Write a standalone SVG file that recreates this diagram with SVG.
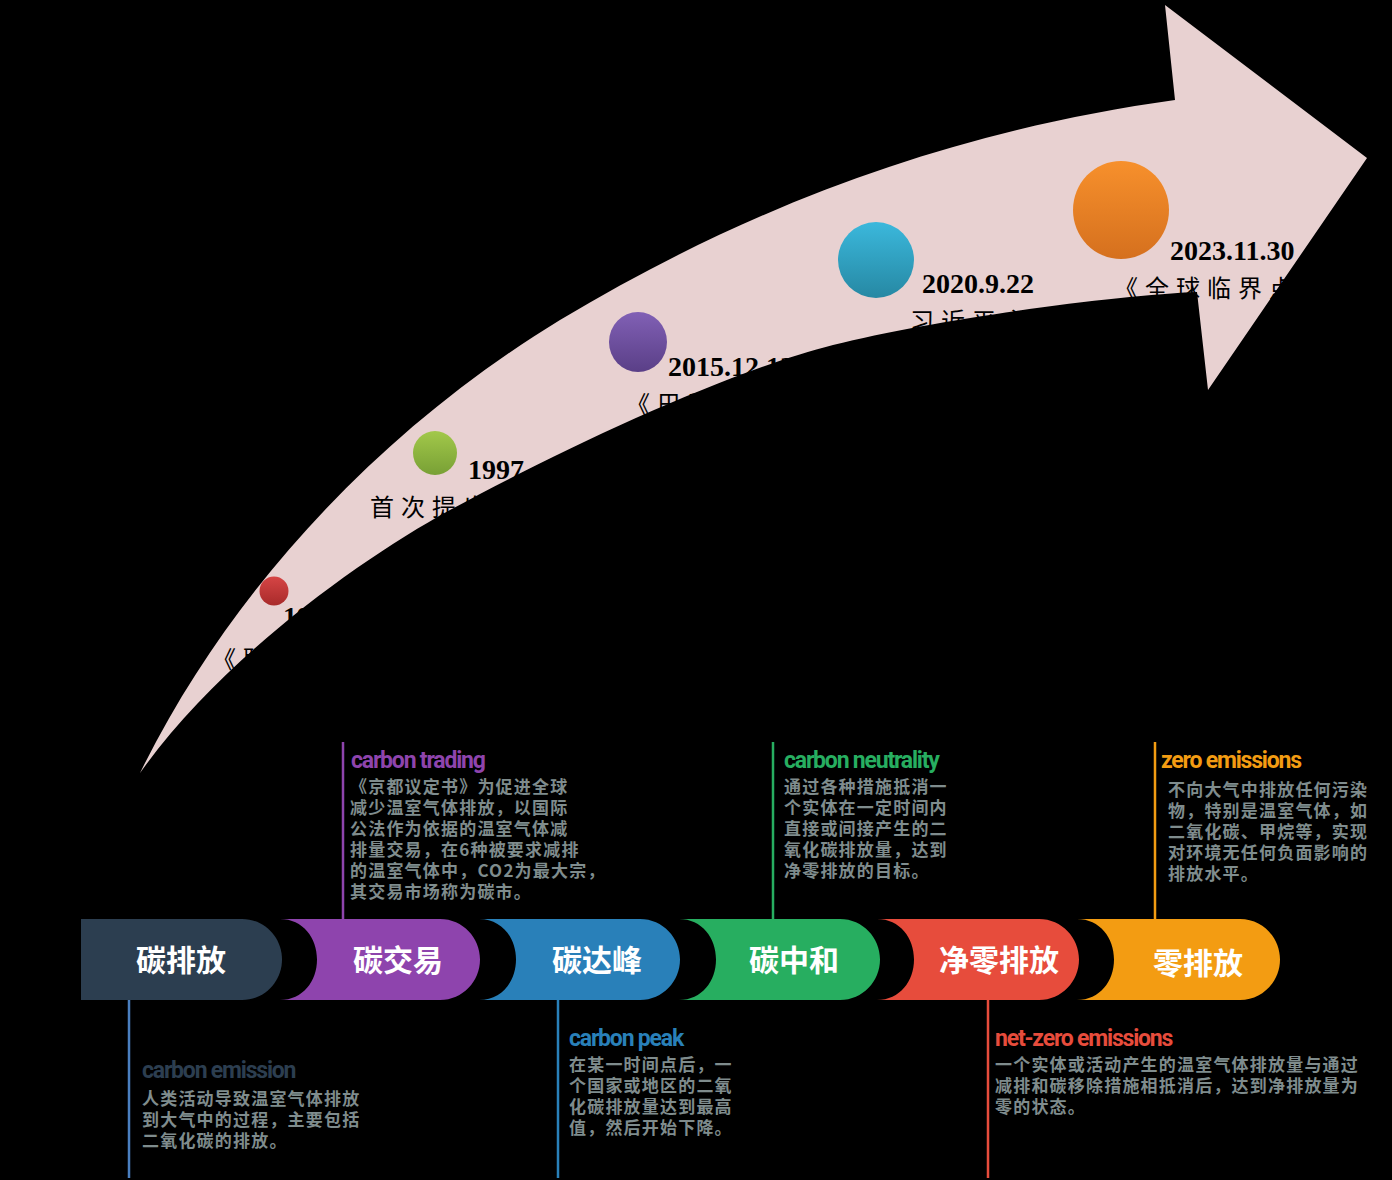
<svg xmlns="http://www.w3.org/2000/svg" width="1392" height="1180" viewBox="0 0 1392 1180">
<defs>
<style>
.date{font-family:"Liberation Serif",serif;font-weight:bold;font-size:28px;fill:#000}
.cn{font-family:"Liberation Serif","Noto Sans CJK SC",serif;font-size:24px;letter-spacing:7px;fill:#000}
.node{font-family:"Noto Sans CJK SC",sans-serif;font-weight:bold;font-size:30px;fill:#fff;text-anchor:middle}
.ttl{font-family:"Roboto","Liberation Sans",sans-serif;font-weight:bold;font-size:23px;letter-spacing:-1.2px}
.desc{font-family:"Noto Sans CJK SC",sans-serif;font-weight:bold;font-size:17px;fill:#7f8c8d;letter-spacing:1.2px}
</style>
<linearGradient id="gr" x1="0" y1="0" x2="0" y2="1"><stop offset="0" stop-color="#d64545"/><stop offset="1" stop-color="#a82a2a"/></linearGradient>
<linearGradient id="gg" x1="0" y1="0" x2="0" y2="1"><stop offset="0" stop-color="#a2c84a"/><stop offset="1" stop-color="#78a035"/></linearGradient>
<linearGradient id="gp" x1="0" y1="0" x2="0" y2="1"><stop offset="0" stop-color="#8160b5"/><stop offset="1" stop-color="#5a3f87"/></linearGradient>
<linearGradient id="gb" x1="0" y1="0" x2="0" y2="1"><stop offset="0" stop-color="#3bb8dc"/><stop offset="1" stop-color="#2688a3"/></linearGradient>
<linearGradient id="go" x1="0" y1="0" x2="0" y2="1"><stop offset="0" stop-color="#f7902c"/><stop offset="1" stop-color="#d5701e"/></linearGradient>
</defs>
<rect width="1392" height="1180" fill="#000"/>
<g id="arrow">
<path d="M140,773 C230,590 380,430 560,320 C760,200 960,130 1175,100 L1165,5 L1367,158 L1208,390 L1197,292 C1120,295 940,318 833,345 C726,372 560,450 450,510 C360,559 220,660 140,773 Z" fill="#e8d1d1"/>
</g>
<g id="milestones">
<circle cx="274" cy="591" r="14.5" fill="url(#gr)"/>
<circle cx="435" cy="453" r="22" fill="url(#gg)"/>
<ellipse cx="638" cy="342" rx="29" ry="30" fill="url(#gp)"/>
<ellipse cx="876" cy="260" rx="38" ry="38" fill="url(#gb)"/>
<ellipse cx="1121" cy="210" rx="48" ry="49" fill="url(#go)"/>
<text class="date" x="283" y="626">1992</text>
<text class="cn" x="212" y="668">《联合国气候变化框架公约》</text>
<text class="date" x="468" y="479">1997</text>
<text class="cn" x="370" y="516">首次提出</text>
<text class="date" x="668" y="376">2015.12.12</text>
<text class="cn" x="626" y="413">《巴黎协定》</text>
<text class="date" x="922" y="293">2020.9.22</text>
<text class="cn" x="910" y="330">习近平主席宣布</text>
<text class="date" x="1170" y="260">2023.11.30</text>
<text class="cn" x="1114" y="297">《全球临界点报告》</text>
</g>
<g id="connectors" stroke-width="2.5">
<line x1="129" y1="1000" x2="129" y2="1178" stroke="#4a7fc0"/>
<line x1="343" y1="742" x2="343" y2="919" stroke="#8e44ad"/>
<line x1="558" y1="1000" x2="558" y2="1178" stroke="#2980b9"/>
<line x1="773" y1="742" x2="773" y2="919" stroke="#27ae60"/>
<line x1="988" y1="1000" x2="988" y2="1178" stroke="#e74c3c"/>
<line x1="1155" y1="742" x2="1155" y2="919" stroke="#f39c12"/>
</g>
<g id="n1">
<path d="M81,919 H242 C265,919 282,938 282,959.5 C282,981 265,1000 242,1000 H81 Z" fill="#2c3e50"/>
<text class="node" x="181" y="971">碳排放</text>
<text class="ttl" x="142" y="1078" fill="#2c3e50">carbon emission</text>
<text class="desc"><tspan x="142" y="1105">人类活动导致温室气体排放</tspan><tspan x="142" y="1126">到大气中的过程，主要包括</tspan><tspan x="142" y="1147">二氧化碳的排放。</tspan></text>
</g>
<g id="n2">
<path d="M280,919 H440 C463,919 480,938 480,959.5 C480,981 463,1000 440,1000 H280 C303,1000 317,981 317,959.5 C317,938 303,919 280,919 Z" fill="#8e44ad"/>
<text class="node" x="398" y="971">碳交易</text>
<text class="ttl" x="351" y="768" fill="#8e44ad">carbon trading</text>
<text class="desc"><tspan x="350" y="793">《京都议定书》为促进全球</tspan><tspan x="350" y="814">减少温室气体排放，以国际</tspan><tspan x="350" y="835">公法作为依据的温室气体减</tspan><tspan x="350" y="856">排量交易，在6种被要求减排</tspan><tspan x="350" y="877">的温室气体中，CO2为最大宗，</tspan><tspan x="350" y="898">其交易市场称为碳市。</tspan></text>
</g>
<g id="n3">
<path d="M479,919 H640 C663,919 680,938 680,959.5 C680,981 663,1000 640,1000 H479 C502,1000 516,981 516,959.5 C516,938 502,919 479,919 Z" fill="#2980b9"/>
<text class="node" x="597" y="971">碳达峰</text>
<text class="ttl" x="569" y="1046" fill="#2980b9">carbon peak</text>
<text class="desc"><tspan x="569" y="1071">在某一时间点后，一</tspan><tspan x="569" y="1092">个国家或地区的二氧</tspan><tspan x="569" y="1113">化碳排放量达到最高</tspan><tspan x="569" y="1134">值，然后开始下降。</tspan></text>
</g>
<g id="n4">
<path d="M679,919 H840 C863,919 880,938 880,959.5 C880,981 863,1000 840,1000 H679 C702,1000 716,981 716,959.5 C716,938 702,919 679,919 Z" fill="#27ae60"/>
<text class="node" x="794" y="971">碳中和</text>
<text class="ttl" x="784" y="768" fill="#27ae60">carbon neutrality</text>
<text class="desc"><tspan x="784" y="793">通过各种措施抵消一</tspan><tspan x="784" y="814">个实体在一定时间内</tspan><tspan x="784" y="835">直接或间接产生的二</tspan><tspan x="784" y="856">氧化碳排放量，达到</tspan><tspan x="784" y="877">净零排放的目标。</tspan></text>
</g>
<g id="n5">
<path d="M877,919 H1039 C1062,919 1079,938 1079,959.5 C1079,981 1062,1000 1039,1000 H877 C900,1000 914,981 914,959.5 C914,938 900,919 877,919 Z" fill="#e74c3c"/>
<text class="node" x="999" y="971">净零排放</text>
<text class="ttl" x="995" y="1046" fill="#e74c3c">net-zero emissions</text>
<text class="desc"><tspan x="995" y="1071">一个实体或活动产生的温室气体排放量与通过</tspan><tspan x="995" y="1092">减排和碳移除措施相抵消后，达到净排放量为</tspan><tspan x="995" y="1113">零的状态。</tspan></text>
</g>
<g id="n6">
<path d="M1077,919 H1240 C1263,919 1280,938 1280,959.5 C1280,981 1263,1000 1240,1000 H1077 C1100,1000 1114,981 1114,959.5 C1114,938 1100,919 1077,919 Z" fill="#f39c12"/>
<text class="node" x="1198" y="974">零排放</text>
<text class="ttl" x="1161" y="768" fill="#f39c12">zero emissions</text>
<text class="desc"><tspan x="1168" y="796">不向大气中排放任何污染</tspan><tspan x="1168" y="817">物，特别是温室气体，如</tspan><tspan x="1168" y="838">二氧化碳、甲烷等，实现</tspan><tspan x="1168" y="859">对环境无任何负面影响的</tspan><tspan x="1168" y="880">排放水平。</tspan></text>
</g>
</svg>
